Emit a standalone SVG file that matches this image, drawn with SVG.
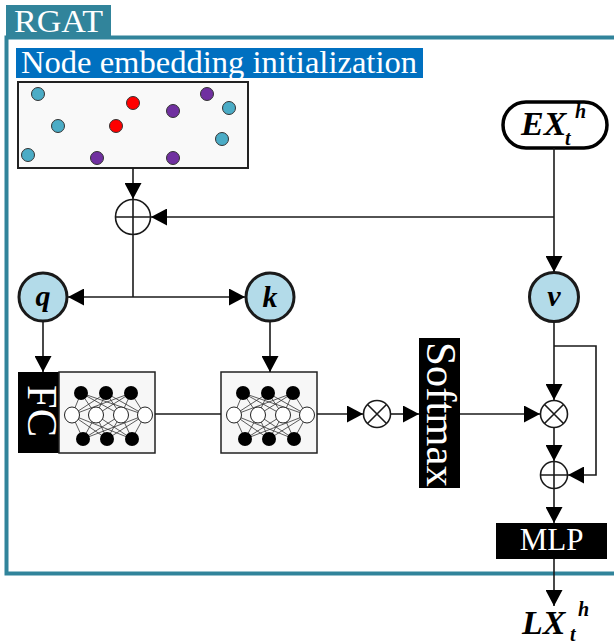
<svg xmlns="http://www.w3.org/2000/svg" xmlns:xlink="http://www.w3.org/1999/xlink" width="614" height="644" viewBox="0 0 614 644">
<style>
.serif{font-family:'Liberation Serif','DejaVu Serif',serif;}
.wt{fill:#ffffff;}
.bi{font-family:'Liberation Serif','DejaVu Serif',serif;font-weight:bold;font-style:italic;fill:#000;}
.conn{fill:none;stroke:#1a1a1a;stroke-width:1.6;}
.arr{marker-end:url(#ah);}
.node{fill:#b3dbe9;stroke:#1a1a1a;stroke-width:3;}
.op{fill:#fff;stroke:#1a1a1a;stroke-width:1.6;}
.dot{stroke:#333;stroke-width:1;}
.cy{fill:#4bacc6;}
.rd{fill:#ff0000;}
.pu{fill:#7030a0;}
.nnl{stroke:#333;stroke-width:0.8;}
.nb{fill:#000;}
.nw{fill:#fff;stroke:#222;stroke-width:1;}
</style>
<defs>
<marker id="ah" viewBox="0 0 16 17" markerWidth="16" markerHeight="17" refX="16" refY="8.5" orient="auto" markerUnits="userSpaceOnUse">
<path d="M0,0 L16,8.5 L0,17 Z" fill="#000"/>
</marker>
<g id="nn">
<g class="nnl">
<path d="M22,21 L13,43 M22,21 L37,43 M22,21 L62,43 M22,21 L86,43 M47,21 L13,43 M47,21 L37,43 M47,21 L62,43 M47,21 L86,43 M72,21 L13,43 M72,21 L37,43 M72,21 L62,43 M72,21 L86,43"/>
<path d="M24,67 L13,43 M24,67 L37,43 M24,67 L62,43 M24,67 L86,43 M48,67 L13,43 M48,67 L37,43 M48,67 L62,43 M48,67 L86,43 M73,67 L13,43 M73,67 L37,43 M73,67 L62,43 M73,67 L86,43"/>
</g>
<circle class="nb" cx="22" cy="21" r="7"/><circle class="nb" cx="47" cy="21" r="7"/><circle class="nb" cx="72" cy="21" r="7"/>
<ellipse class="nw" cx="13" cy="43" rx="7.5" ry="8"/><ellipse class="nw" cx="37" cy="43" rx="7.5" ry="8"/><ellipse class="nw" cx="62" cy="43" rx="7.5" ry="8"/><ellipse class="nw" cx="86" cy="43" rx="7.5" ry="8"/>
<circle class="nb" cx="24" cy="67" r="7"/><circle class="nb" cx="48" cy="67" r="7"/><circle class="nb" cx="73" cy="67" r="7"/>
</g>
</defs>

<g id="frame">
<rect x="6.5" y="37.5" width="700" height="536" fill="none" stroke="#31849b" stroke-width="4"/>
<rect x="6" y="5" width="105" height="31" fill="#31849b"/>
<text class="serif wt" x="14" y="32" font-size="32" textLength="89" lengthAdjust="spacingAndGlyphs">RGAT</text>
</g>

<g id="init-label">
<rect x="16" y="48" width="407" height="30" fill="#0070c0"/>
<text class="serif wt" x="21" y="73" font-size="32.5" textLength="396" lengthAdjust="spacingAndGlyphs">Node embedding initialization</text>
</g>

<g id="embeddings">
<rect x="18" y="82" width="230" height="86" fill="#f9f9f9" stroke="#222" stroke-width="2"/>
<circle class="dot cy" cx="38" cy="94" r="6.5"/>
<circle class="dot rd" cx="133" cy="103" r="6.5"/>
<circle class="dot pu" cx="207" cy="94" r="6.5"/>
<circle class="dot pu" cx="173" cy="111" r="6.5"/>
<circle class="dot cy" cx="229" cy="108" r="6.5"/>
<circle class="dot cy" cx="58" cy="126" r="6.5"/>
<circle class="dot rd" cx="116" cy="126" r="6.5"/>
<circle class="dot cy" cx="222" cy="139" r="6.5"/>
<circle class="dot cy" cx="28" cy="155" r="6.5"/>
<circle class="dot pu" cx="97" cy="158" r="6.5"/>
<circle class="dot pu" cx="173" cy="158" r="6.5"/>
</g>

<g id="oplus1">
<circle class="op" cx="133" cy="217" r="17.5"/>
<path class="conn" d="M115.5,217 H150.5 M133,199.5 V234.5"/>
</g>

<g id="EX">
<rect x="503" y="102" width="104" height="46" rx="23" ry="23" fill="#fff" stroke="#000" stroke-width="3.5"/>
<text class="bi" x="521" y="135" font-size="34">EX</text>
<text class="bi" x="575" y="118" font-size="20">h</text>
<text class="bi" x="565" y="145" font-size="20">t</text>
</g>

<g id="q">
<circle class="node" cx="43" cy="297" r="24"/>
<text class="bi" x="43" y="306" font-size="30" text-anchor="middle">q</text>
</g>
<g id="k">
<circle class="node" cx="270" cy="297" r="24"/>
<text class="bi" x="270" y="307" font-size="30" text-anchor="middle">k</text>
</g>
<g id="v">
<circle class="node" cx="554" cy="297" r="24.5"/>
<text class="bi" x="554" y="306" font-size="30" text-anchor="middle">v</text>
</g>

<g id="FC">
<rect x="18" y="372" width="41" height="81" fill="#000"/>
<rect x="59" y="372" width="96" height="81" fill="#f7f7f7" stroke="#222" stroke-width="1.5"/>
<text class="serif wt" transform="translate(28,385) rotate(90)" font-size="42" textLength="52" lengthAdjust="spacingAndGlyphs">FC</text>
<use xlink:href="#nn" x="59" y="372"/>
</g>

<g id="kNN">
<rect x="221" y="372" width="96" height="81" fill="#f7f7f7" stroke="#222" stroke-width="1.5"/>
<use xlink:href="#nn" x="221" y="372"/>
</g>

<g id="otimes1">
<circle class="op" cx="377" cy="414" r="13.5"/>
<path class="conn" d="M367.5,404.5 L386.5,423.5 M386.5,404.5 L367.5,423.5"/>
</g>

<g id="softmax">
<rect x="419" y="338" width="41" height="150" fill="#000"/>
<text class="serif wt" transform="translate(427,342) rotate(90)" font-size="43" textLength="145" lengthAdjust="spacingAndGlyphs">Softmax</text>
</g>

<g id="otimes2">
<circle class="op" cx="554" cy="414" r="13.5"/>
<path class="conn" d="M544.5,404.5 L563.5,423.5 M563.5,404.5 L544.5,423.5"/>
</g>

<g id="oplus2">
<circle class="op" cx="554" cy="475" r="13.5"/>
<path class="conn" d="M540.5,475 H567.5 M554,461.5 V488.5"/>
</g>

<g id="MLP">
<rect x="496" y="523" width="111" height="36" fill="#000"/>
<text class="serif wt" x="551.5" y="550" font-size="31" text-anchor="middle">MLP</text>
</g>

<g id="LX">
<text class="bi" x="522" y="634" font-size="34">LX</text>
<text class="bi" x="578" y="616" font-size="20">h</text>
<text class="bi" x="570" y="641" font-size="20">t</text>
</g>

<g id="connectors">
<path class="conn arr" d="M133,168 V199"/>
<path class="conn arr" d="M554,148 V272"/>
<path class="conn arr" d="M554,217 H151"/>
<path class="conn" d="M133,235 V297"/>
<path class="conn arr" d="M133,297 H68"/>
<path class="conn arr" d="M133,297 H245"/>
<path class="conn arr" d="M43,321 V372"/>
<path class="conn arr" d="M270,321 V372"/>
<path class="conn" d="M155,414 H221"/>
<path class="conn arr" d="M317,414 H363"/>
<path class="conn arr" d="M391,414 H419"/>
<path class="conn arr" d="M460,414 H540"/>
<path class="conn arr" d="M554,322 V400"/>
<path class="conn arr" d="M554,346 H596 V475 H568"/>
<path class="conn arr" d="M554,428 V461"/>
<path class="conn arr" d="M554,489 V523"/>
<path class="conn arr" d="M554,559 V606"/>
</g>
</svg>
